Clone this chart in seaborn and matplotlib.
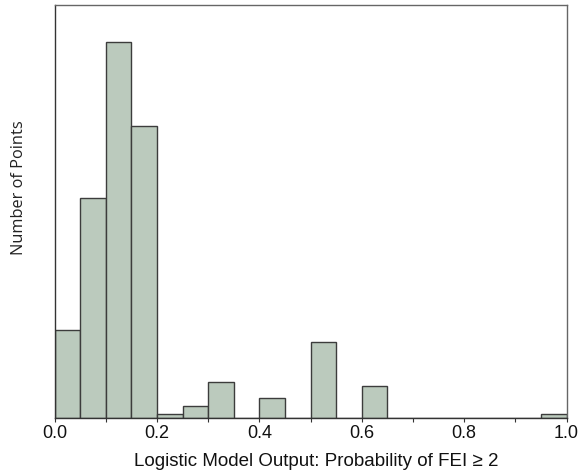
import numpy as np
import pandas as pd
import seaborn as sns
import matplotlib.pyplot as plt
from matplotlib.ticker import MultipleLocator

# Histogram bins of the logistic model output (width 0.05) and their counts
bin_edges = [round(0.05 * i, 2) for i in range(21)]
bin_counts = [22, 55, 94, 73, 1, 3, 9, 0, 5, 0,
              19, 0, 8, 0, 0, 0, 0, 0, 0, 1]
x_ticks = [0.0, 0.2, 0.4, 0.6, 0.8, 1.0]
x_tick_labels = ["0.0", "0.2", "0.4", "0.6", "0.8", "1.0"]

centers = [(a + b) / 2 for a, b in zip(bin_edges[:-1], bin_edges[1:])]
df = pd.DataFrame({"prob": centers, "count": bin_counts})

sns.set_theme(style="white")
plt.rcParams["font.family"] = ["Liberation Sans", "DejaVu Sans"]

fig = plt.figure(figsize=(5.81, 4.72), dpi=100)
ax = fig.add_axes([54.5 / 581, 1 - 418 / 472, 512 / 581, 413 / 472])

sns.histplot(data=df, x="prob", weights="count", bins=bin_edges,
             color="#bbcabd", edgecolor="#3c3c3c", linewidth=1.0,
             alpha=1.0, ax=ax)

ax.set_xlim(0, 1)
ax.set_ylim(0, 103.3)
ax.set_xticks(x_ticks)
ax.set_xticklabels(x_tick_labels, fontsize=13, color="#111111")
ax.xaxis.set_minor_locator(MultipleLocator(0.1))
ax.tick_params(axis="x", which="both", direction="out", length=3,
               width=0.8, color="#333333", bottom=True, pad=2)
ax.set_yticks([])

for side, sp in ax.spines.items():
    sp.set_visible(True)
    sp.set_linewidth(1.0)
    sp.set_color("#333333")
ax.spines["top"].set_color("#666666")
ax.spines["right"].set_color("#666666")

ax.set_xlabel("Logistic Model Output: Probability of FEI \u2265 2",
              fontsize=13.5, color="#111111")
ax.xaxis.set_label_coords(0.511, -0.085)
ax.set_ylabel("Number of Points", fontsize=11.8, color="#222222",
              family=["Open Sans", "DejaVu Sans"])
ax.yaxis.set_label_coords(-0.053, 0.557)

fig.savefig("out.png", dpi=100)
